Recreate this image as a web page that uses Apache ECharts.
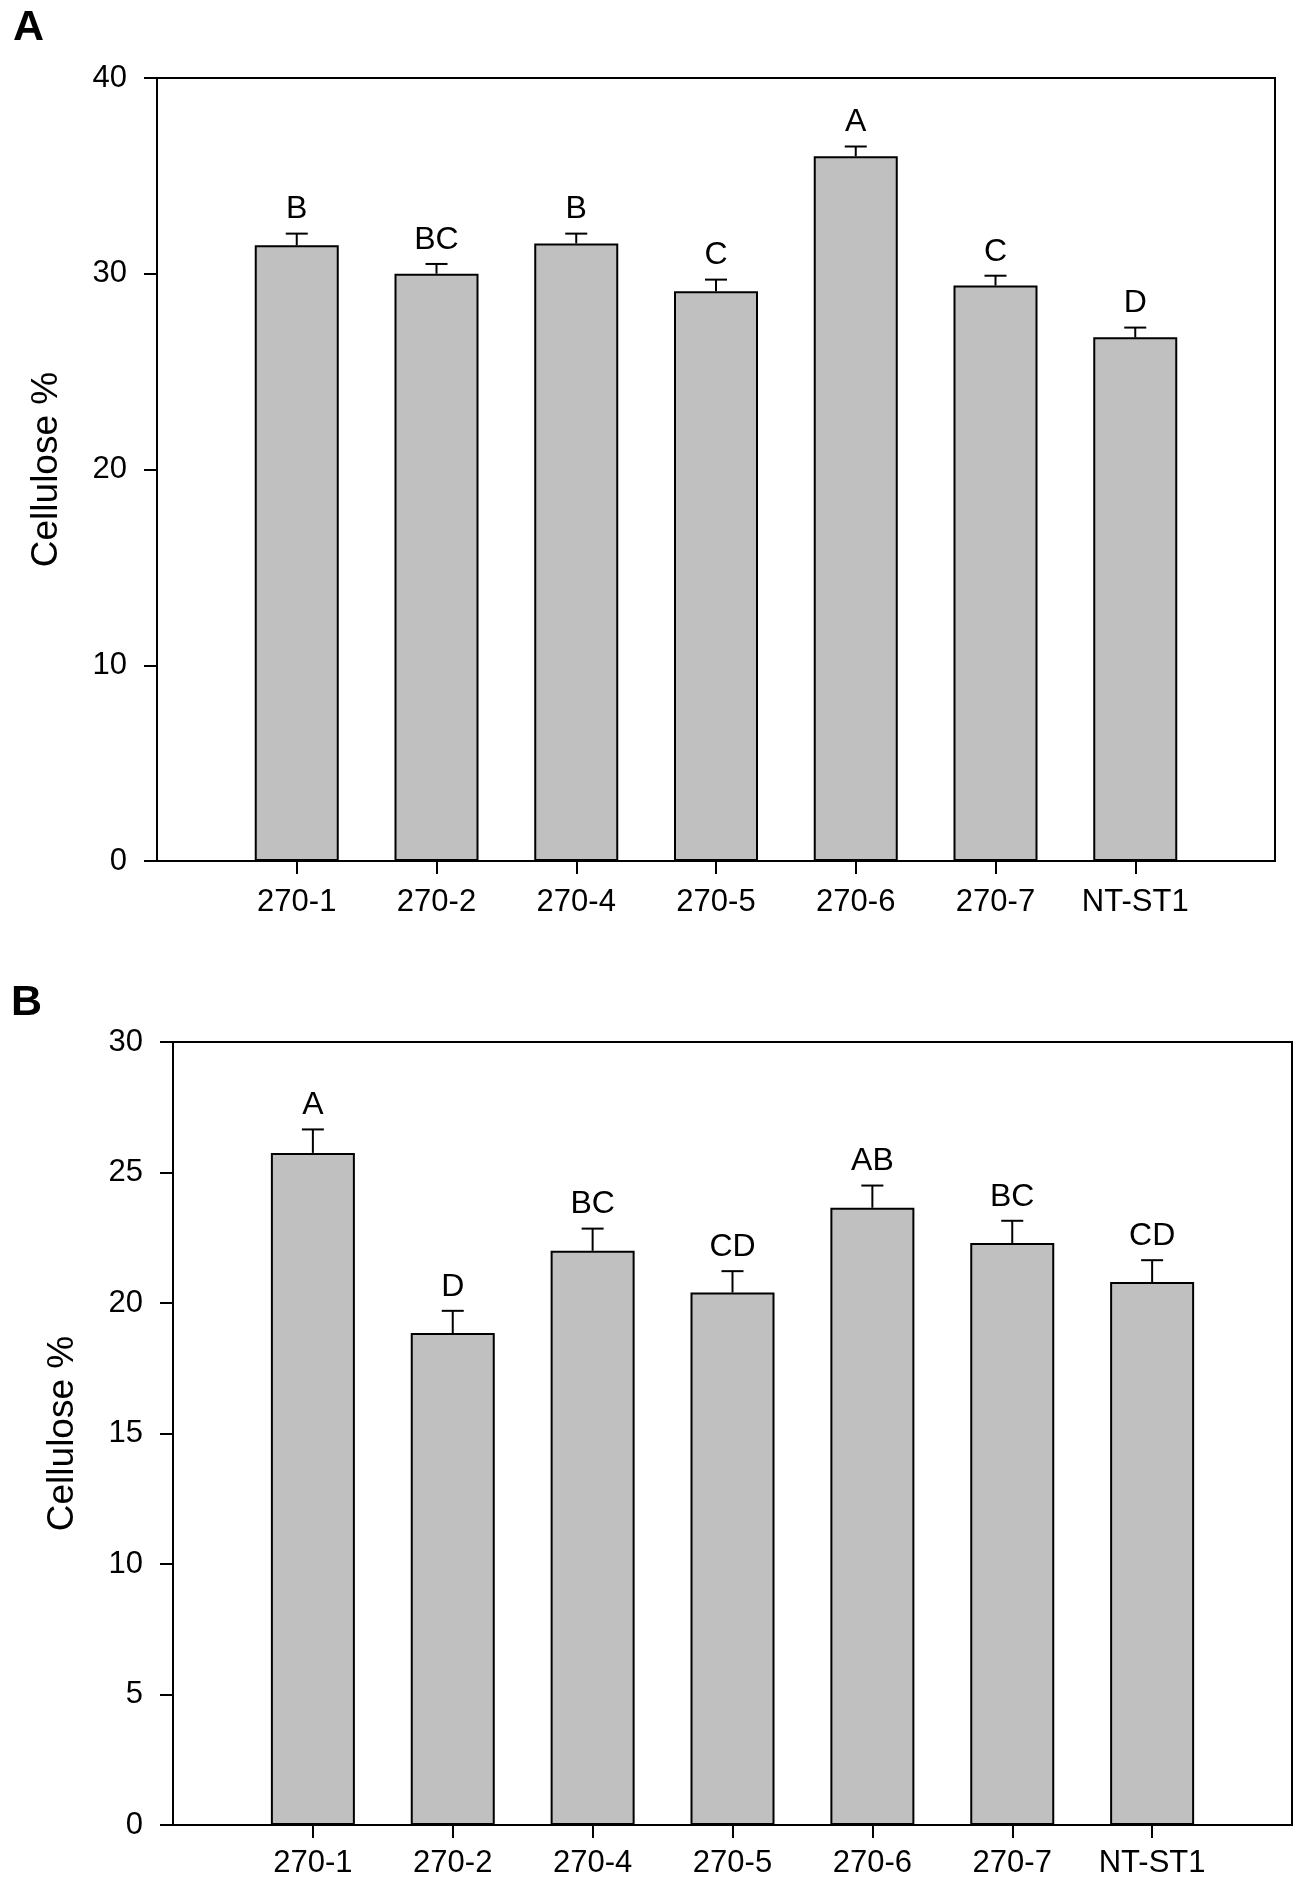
<!DOCTYPE html>
<html>
<head>
    <meta charset="utf-8">
    <title>Cellulose %</title>
    <script type="text/javascript" src="https://cdn.jsdelivr.net/npm/echarts@6.0.0/dist/echarts.min.js"></script>
    <style>
        body { margin: 0; background: #fff; }
    </style>
</head>
<body>
    <div id="main" style="width: 1300px;height:1885px;"></div>

    <script type="text/javascript">
        // data
        var categories = ['270-1', '270-2', '270-4', '270-5', '270-6', '270-7', 'NT-ST1'];

        var cellA   = [31.45, 30.0, 31.55, 29.1, 36.0, 29.4, 26.75];
        var errA    = [0.6, 0.5, 0.5, 0.6, 0.5, 0.5, 0.5];
        var lettersA = ['B', 'BC', 'B', 'C', 'A', 'C', 'D'];
        var ticksA  = { min: 0, max: 40, interval: 10 };

        var cellB   = [25.75, 18.85, 22.0, 20.4, 23.65, 22.3, 20.8];
        var errB    = [0.9, 0.85, 0.85, 0.82, 0.85, 0.85, 0.84];
        var lettersB = ['A', 'D', 'BC', 'CD', 'AB', 'BC', 'CD'];
        var ticksB  = { min: 0, max: 30, interval: 5 };

        var FONT = '"Liberation Sans", Arial, sans-serif';

        // empty slot at each end so bars sit one full step in from the frame
        var axisCats = [''].concat(categories).concat(['']);

        function barData(vals) {
            return ['-'].concat(vals).concat(['-']);
        }
        function errData(vals, errs) {
            var out = [];
            for (var i = 0; i < vals.length; i++) {
                out.push([i + 1, vals[i], errs[i]]);
            }
            return out;
        }

        function errRender(letters) {
            return function (params, api) {
                var x = api.value(0), v = api.value(1), e = api.value(2);
                var top = api.coord([x, v]);
                var cap = api.coord([x, v + e]);
                return {
                    type: 'group',
                    children: [
                        { type: 'line', shape: { x1: top[0], y1: top[1], x2: cap[0], y2: cap[1] },
                          style: { stroke: '#000', lineWidth: 2 } },
                        { type: 'line', shape: { x1: cap[0] - 11, y1: cap[1], x2: cap[0] + 11, y2: cap[1] },
                          style: { stroke: '#000', lineWidth: 2 } },
                        { type: 'text', x: cap[0], y: cap[1] - 8,
                          style: { text: letters[params.dataIndex], fill: '#000',
                                   font: '32px ' + FONT, align: 'center', verticalAlign: 'bottom' } }
                    ]
                };
            };
        }

        function xAxis(idx, margin) {
            return {
                type: 'category',
                gridIndex: idx,
                data: axisCats,
                boundaryGap: false,
                axisLine: { lineStyle: { color: '#000', width: 2 } },
                axisTick: { length: 13, lineStyle: { color: '#000', width: 2 },
                            interval: function (i, val) { return val !== ''; } },
                axisLabel: { color: '#000', fontSize: 31, fontFamily: FONT, margin: margin, interval: 0 },
                splitLine: { show: false }
            };
        }

        function yAxis(idx, t) {
            return {
                type: 'value',
                gridIndex: idx,
                min: t.min,
                max: t.max,
                interval: t.interval,
                name: 'Cellulose %',
                nameLocation: 'middle',
                nameGap: 92,
                nameTextStyle: { color: '#000', fontSize: 37, fontFamily: FONT },
                axisLine: { show: true, lineStyle: { color: '#000', width: 2 } },
                axisTick: { show: true, length: 13, lineStyle: { color: '#000', width: 2 } },
                axisLabel: { color: '#000', fontSize: 31, fontFamily: FONT, margin: 30 },
                splitLine: { show: false }
            };
        }

        var myChart = echarts.init(document.getElementById('main'), null, { renderer: 'canvas' });

        var option = {
            backgroundColor: '#fff',
            animation: false,
            title: [
                { text: 'A', left: 8, top: 2, textStyle: { fontSize: 43, fontWeight: 'bold', color: '#000', fontFamily: FONT } },
                { text: 'B', left: 6, top: 977, textStyle: { fontSize: 43, fontWeight: 'bold', color: '#000', fontFamily: FONT } }
            ],
            grid: [
                { left: 157, top: 78, width: 1118, height: 783, show: true, borderColor: '#000', borderWidth: 2, backgroundColor: 'transparent' },
                { left: 173, top: 1042, width: 1119, height: 783, show: true, borderColor: '#000', borderWidth: 2, backgroundColor: 'transparent' }
            ],
            xAxis: [xAxis(0, 26), xAxis(1, 23)],
            yAxis: [yAxis(0, ticksA), yAxis(1, ticksB)],
            series: [
                {
                    type: 'bar', xAxisIndex: 0, yAxisIndex: 0,
                    data: barData(cellA), barWidth: 84,
                    itemStyle: { color: '#c0c0c0', borderColor: '#000', borderWidth: 2 }
                },
                {
                    type: 'custom', xAxisIndex: 0, yAxisIndex: 0,
                    data: errData(cellA, errA), renderItem: errRender(lettersA), z: 3
                },
                {
                    type: 'bar', xAxisIndex: 1, yAxisIndex: 1,
                    data: barData(cellB), barWidth: 84,
                    itemStyle: { color: '#c0c0c0', borderColor: '#000', borderWidth: 2 }
                },
                {
                    type: 'custom', xAxisIndex: 1, yAxisIndex: 1,
                    data: errData(cellB, errB), renderItem: errRender(lettersB), z: 3
                }
            ]
        };

        myChart.setOption(option);
    </script>
</body>
</html>
